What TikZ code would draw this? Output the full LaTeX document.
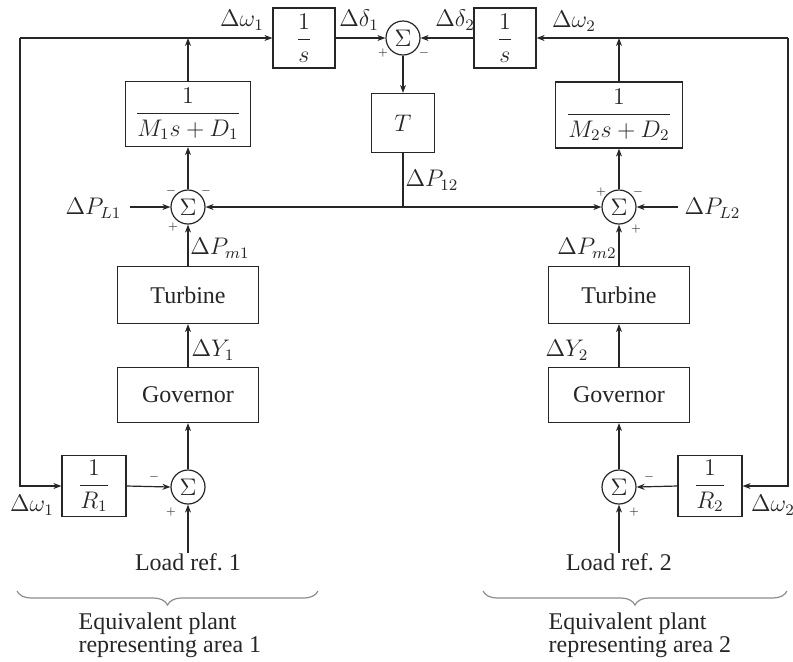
\documentclass[tikz,border=0pt]{standalone}
\usepackage{amsmath}
\usepackage{fontspec}
\setmainfont{Liberation Serif}
\usetikzlibrary{arrows.meta, decorations.pathreplacing}

\tikzset{
  blk/.style={draw, inner sep=0pt, font=\fontsize{12}{14}\selectfont},
  sumj/.style={draw, circle, minimum size=17pt, inner sep=0pt, font=\fontsize{12}{14}\selectfont},
  lbl/.style={inner sep=0pt, font=\fontsize{12}{14}\selectfont},
  sig/.style={inner sep=0pt, font=\fontsize{5}{5}\selectfont},
  areabrace/.style={black!45, decorate, decoration={brace, mirror, amplitude=7pt}}
}

\begin{document}
\begin{tikzpicture}[x=0.5pt, y=-0.5pt, line width=0.6pt, color=black!85,
    >={Stealth[length=4pt, width=3pt]}]
  \useasboundingbox (0,0) rectangle (793,661);

  % blocks
  \node[blk, minimum width=31pt, minimum height=30pt] (int1) at (304,38) {$\dfrac{1}{s}$};
  \node[blk, minimum width=31pt, minimum height=30pt] (int2) at (505,38) {$\dfrac{1}{s}$};
  \node[sumj] (sd) at (403,38) {$\Sigma$};
  \node[blk, minimum width=31.5pt, minimum height=29.5pt] (tie) at (403,123) {$T$};
  \node[blk, minimum width=62.5pt, minimum height=32.5pt] (mass1) at (188,114) {$\dfrac{1}{M_1 s + D_1}$};
  \node[blk, minimum width=63.5pt, minimum height=33pt] (mass2) at (619,115) {$\dfrac{1}{M_2 s + D_2}$};
  \node[sumj] (sp1) at (188,207) {$\Sigma$};
  \node[sumj] (sp2) at (619,207) {$\Sigma$};
  \node[blk, minimum width=70.5pt, minimum height=28.5pt] (turb1) at (188,295) {Turbine};
  \node[blk, minimum width=70.5pt, minimum height=28.5pt] (turb2) at (619,295) {Turbine};
  \node[blk, minimum width=70.5pt, minimum height=27.5pt] (gov1) at (188,395) {Governor};
  \node[blk, minimum width=70.5pt, minimum height=27.5pt] (gov2) at (619,395) {Governor};
  \node[sumj] (sr1) at (188,487) {$\Sigma$};
  \node[sumj] (sr2) at (619,487) {$\Sigma$};
  \node[blk, minimum width=32pt, minimum height=30.5pt] (droop1) at (94,486) {$\dfrac{1}{R_1}$};
  \node[blk, minimum width=32pt, minimum height=30.5pt] (droop2) at (710,486) {$\dfrac{1}{R_2}$};
  \node[lbl, anchor=north] (ref1) at (188,553) {Load ref.\ 1};
  \node[lbl, anchor=north] (ref2) at (619,553) {Load ref.\ 2};

  \coordinate (tl) at (20,38);
  \coordinate (bl) at (20,486);
  \coordinate (tr) at (788,38);
  \coordinate (br) at (788,486);
  \coordinate (pl1) at (130,207);
  \coordinate (pl2) at (678,207);
  \coordinate (tj) at (tie.south |- sp1);

  % area 1
  \draw[->] (tl) -- (int1.west);
  \draw[->] (tl) -- (bl) -- (droop1.west);
  \draw[->] (mass1.north) -- (mass1.north |- tl);
  \draw[->] (sp1.north) -- (mass1.south);
  \draw[->] (pl1) -- (sp1.west);
  \draw[->] (turb1.north) -- (sp1.south);
  \draw[->] (gov1.north) -- (turb1.south);
  \draw[->] (sr1.north) -- (gov1.south);
  \draw[->] (droop1.east) -- (sr1.west);
  \draw[->] (ref1.north) -- (sr1.south);

  % area 2
  \draw[->] (tr) -- (int2.east);
  \draw[->] (tr) -- (br) -- (droop2.east);
  \draw[->] (mass2.north) -- (mass2.north |- tr);
  \draw[->] (sp2.north) -- (mass2.south);
  \draw[->] (pl2) -- (sp2.east);
  \draw[->] (turb2.north) -- (sp2.south);
  \draw[->] (gov2.north) -- (turb2.south);
  \draw[->] (sr2.north) -- (gov2.south);
  \draw[->] (droop2.west) -- (sr2.east);
  \draw[->] (ref2.north) -- (sr2.south);

  % tie line
  \draw[->] (int1.east) -- (sd.west);
  \draw[->] (int2.west) -- (sd.east);
  \draw[->] (sd.south) -- (tie.north);
  \draw (tie.south) -- (tj);
  \draw[->] (tj) -- (sp1.east);
  \draw[->] (tj) -- (sp2.west);

  % signal labels
  \node[lbl] (w1t) at (242,20) {$\Delta\omega_1$};
  \node[lbl] (d1) at (359,20) {$\Delta\delta_1$};
  \node[lbl] (d2) at (455,20) {$\Delta\delta_2$};
  \node[lbl] (w2t) at (574,21) {$\Delta\omega_2$};
  \node[lbl] (p12) at (432,180) {$\Delta P_{12}$};
  \node[lbl, anchor=east] (pl1lbl) at (122,208) {$\Delta P_{L1}$};
  \node[lbl, anchor=west] (pl2lbl) at (684,208) {$\Delta P_{L2}$};
  \node[lbl] (pm1) at (220,248) {$\Delta P_{m1}$};
  \node[lbl] (pm2) at (587,248) {$\Delta P_{m2}$};
  \node[lbl] (y1) at (213,350) {$\Delta Y_1$};
  \node[lbl] (y2) at (567,350) {$\Delta Y_2$};
  \node[lbl] (w1b) at (32,505) {$\Delta\omega_1$};
  \node[lbl] (w2b) at (773,505) {$\Delta\omega_2$};

  % signs
  \node[sig] at (383,53) {$+$};
  \node[sig] at (424,53) {$-$};
  \node[sig] at (171,191) {$-$};
  \node[sig] at (206,191) {$-$};
  \node[sig] at (173,227) {$+$};
  \node[sig] at (601,192) {$+$};
  \node[sig] at (638,192) {$-$};
  \node[sig] at (636,229) {$+$};
  \node[sig] at (154,477) {$-$};
  \node[sig] at (171,512) {$+$};
  \node[sig] at (649,477) {$-$};
  \node[sig] at (634,512) {$+$};

  % areas
  \draw[areabrace] (17,591) -- (318,591);
  \draw[areabrace] (483,591) -- (787,591);
  \node[lbl, align=left, anchor=north west, font=\fontsize{12}{11.5}\selectfont] (area1) at (78,612)
    {Equivalent plant\\representing area 1};
  \node[lbl, align=left, anchor=north west, font=\fontsize{12}{11.5}\selectfont] (area2) at (548,612)
    {Equivalent plant\\representing area 2};
\end{tikzpicture}
\end{document}
